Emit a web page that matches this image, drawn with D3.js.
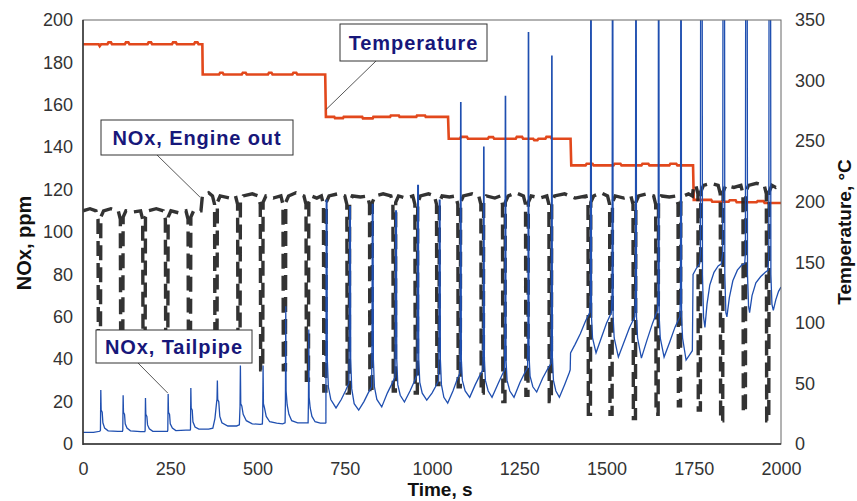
<!DOCTYPE html>
<html><head><meta charset="utf-8">
<script src="https://cdn.jsdelivr.net/npm/d3@7"></script>
<style>body{margin:0;background:#fff}svg{display:block}</style>
</head><body>
<svg id="chart" width="857" height="501"></svg>
<script>
// ---------- data ----------
const timeTicks = [0,250,500,750,1000,1250,1500,1750,2000];
const noxTicks = [0,20,40,60,80,100,120,140,160,180,200];
const tempTicks = [0,50,100,150,200,250,300,350];

// Temperature, °C  [time s, value]
const temperature = [[0,330],[45,330],[48,328.5],[52,330],[70,330],[73,331.5],[80,331.5],[83,330],[120,330],[123,331.5],[130,331.5],[133,330],[185,330],[188,331.5],[195,331.5],[198,330],[255,330],[258,331.5],[266,331.5],[269,330],[318,330],[321,331.5],[328,331.5],[331,330],[342,330],[343,305],[390,305],[393,306.5],[400,306.5],[403,305],[455,305],[458,306.5],[466,306.5],[469,305],[530,305],[533,306.5],[540,306.5],[543,305],[600,305],[603,306.5],[611,306.5],[614,305],[694,305],[696,270],[720,270],[722,269],[745,269],[747,270],[800,270],[802,268.8],[830,268.8],[832,270],[880,270],[882,271.2],[905,271.2],[907,270],[955,270],[957,271.2],[980,271.2],[982,270],[1046,270],[1048,252],[1080,252],[1083,253.5],[1100,253.5],[1103,252],[1160,252],[1163,253.3],[1175,253.3],[1178,252],[1240,252],[1243,253.5],[1258,253.5],[1261,252],[1290,252],[1293,250.8],[1302,250.8],[1305,252],[1325,252],[1328,253.5],[1340,253.5],[1343,252],[1397,252],[1399,230],[1440,230],[1443,231.3],[1460,231.3],[1463,230],[1520,230],[1523,231.3],[1540,231.3],[1543,230],[1600,230],[1603,231.3],[1620,231.3],[1623,230],[1680,230],[1683,231.3],[1700,231.3],[1703,230],[1748,230],[1750,201.5],[1800,201.5],[1803,200],[1850,200],[1853,201.2],[1870,201.2],[1873,199.5],[1930,199.5],[1933,200.5],[1950,200.5],[1953,199],[2000,199]];

// NOx engine out, ppm
const engineOut = [[0,110],[20,111],[37,110],[43,106],[44,45],[50,45],[51,107],[59,110],[80,111],[101,110],[107,106],[108,45],[114,45],[115,107],[123,110],[145,109.5],[165,110],[171,106],[172,45],[178,45],[179,107],[187,110],[210,111],[230,110],[236,106],[237,45],[243,45],[244,107],[252,110],[275,109],[295,110],[301,106],[302,45],[308,45],[309,107],[317,110],[338,110],[342,117],[360,118.5],[371,117],[377,113],[378,45],[384,45],[385,114],[393,117],[420,116],[437,117],[443,113],[444,45],[450,45],[451,114],[459,117],[485,118],[502,117],[508,113],[509,35],[515,35],[516,114],[524,117],[545,116],[567,117],[573,113],[574,35],[580,35],[581,114],[589,117],[610,118.5],[633,117],[639,113],[640,30],[646,30],[647,114],[655,117],[670,116],[683,117],[689,113],[690,25],[696,25],[697,114],[705,117],[730,118],[750,117],[756,113],[757,24],[763,24],[764,114],[772,117],[795,116.5],[815,117],[821,113],[822,24],[828,24],[829,114],[837,117],[860,118],[882,117],[888,113],[889,25],[895,25],[896,114],[904,117],[925,116],[945,117],[951,113],[952,24],[958,24],[959,114],[967,117],[990,118],[1007,117],[1013,113],[1014,28],[1020,28],[1021,114],[1029,117],[1050,116.5],[1068,117],[1074,113],[1075,27],[1081,27],[1082,114],[1090,117],[1115,118],[1134,117],[1140,113],[1141,24],[1147,24],[1148,114],[1156,117],[1180,116],[1196,117],[1202,113],[1203,20],[1209,20],[1210,114],[1218,117],[1240,118.5],[1262,117],[1268,113],[1269,23],[1275,23],[1276,114],[1284,117],[1310,116],[1329,117],[1335,113],[1336,20],[1342,20],[1343,114],[1351,117],[1380,118],[1410,116],[1441,117],[1447,113],[1448,14],[1454,14],[1455,114],[1463,117],[1485,118.5],[1503,117],[1509,113],[1510,14],[1516,14],[1517,114],[1525,117],[1550,116],[1570,117],[1576,113],[1577,12],[1583,12],[1584,114],[1592,117],[1615,118],[1635,117],[1641,113],[1642,14],[1648,14],[1649,114],[1657,117],[1680,116.5],[1699,117],[1705,113],[1706,18],[1712,18],[1713,114],[1721,117],[1735,118],[1746,117],[1750,122],[1756,122],[1762,118],[1763,16],[1769,16],[1770,119],[1778,122],[1800,123],[1820,122],[1826,118],[1827,11],[1833,11],[1834,119],[1842,122],[1865,121],[1885,122],[1891,118],[1892,15],[1898,15],[1899,119],[1907,122],[1930,123],[1952,122],[1958,118],[1959,11],[1965,11],[1966,119],[1974,122],[1985,121],[2000,122]];

// NOx tailpipe, ppm
const tailpipe = [[0,5.5],[30,5.5],[48,6],[50,6.5],[51,25.5],[52,16],[55,15],[57,10],[62,7.5],[72,6.2],[100,6],[113,6],[114,6.5],[115,23],[116,15],[119,14],[121,9.5],[126,7.5],[136,6.2],[165,5.8],[177,5.8],[178,6.3],[179,21.7],[180,14],[183,13],[185,9],[190,7.2],[200,6],[230,6],[242,6],[243,6.5],[244,23.6],[245,15],[248,14],[250,9.5],[256,7.5],[266,6.3],[295,6.5],[307,6.5],[308,7],[309,26.4],[310,17],[313,16],[315,10.5],[321,8],[332,7],[360,7],[372,7.5],[378,12],[383,20],[384,21],[385,30],[386,21],[389,20],[392,13],[398,10],[415,8.5],[440,8.5],[448,9],[450,18],[451,37],[452,19],[455,18],[459,14],[468,11],[485,9.5],[508,9.3],[514,9.5],[515,15],[516,37],[517,19],[520,17],[525,13],[535,10.5],[555,9.8],[572,9.5],[579,10],[580,20],[581,65],[582,25],[585,18.4],[590,14],[598,11],[615,10],[638,10],[645,10],[646,20],[647,54],[648,22],[651,17],[656,13],[665,10.5],[680,9.8],[695,9.8],
[696,10],[697,115],[699,115],[700,40],[703,27],[710,21],[725,17],[740,21],[752,25],[762,28.8],
[763,50],[764,112],[766,112],[767,40],[770,26],[777,19],[790,16],[805,20],[817,24],[827,27],
[828,45],[829,113],[831,113],[832,40],[835,27],[842,21],[856,17.5],[872,24],[884,28],[894,31.6],
[895,50],[896,110],[898,110],[899,40],[902,28],[909,23],[921,19.8],[937,25],[948,29],[957,32.5],
[958,55],[959,122],[961,122],[962,40],[965,29],[972,24],[985,20.7],[1000,24],[1010,27],[1019,30],
[1020,50],[1021,115],[1023,115],[1024,40],[1027,28],[1034,22],[1045,19.3],[1060,25],[1071,30],[1080,33.5],
[1081,55],[1082,161],[1083,161],[1084,40],[1087,30],[1095,25],[1108,22],[1124,28],[1136,32],[1146,35],
[1147,55],[1148,140],[1149,140],[1150,40],[1153,30],[1161,25],[1172,22],[1188,28],[1199,32],[1208,35],
[1209,55],[1210,164],[1211,164],[1212,40],[1215,30],[1223,25],[1235,22],[1252,29],[1264,33],[1274,36],
[1275,55],[1276,194],[1277,194],[1278,42],[1281,32],[1289,27],[1300,24.5],[1317,31],[1330,35],[1341,38],
[1342,55],[1343,183],[1344,183],[1345,40],[1348,30],[1355,25],[1365,22],[1380,28],[1393,33.5],[1396,35],[1397,43],[1410,47],[1425,52],[1440,58],[1452,62],
[1454,70],[1455,260],[1456,260],[1457,60],[1460,50],[1470,43],[1485,50],[1500,57],[1514,62],
[1516,70],[1517,260],[1518,260],[1519,60],[1522,50],[1534,41],[1550,48],[1566,55],[1581,60],
[1583,70],[1584,260],[1585,260],[1586,60],[1589,50],[1600,40.5],[1616,49],[1632,57],[1646,63],
[1648,70],[1649,260],[1650,260],[1651,60],[1654,50],[1665,41],[1681,48],[1696,55],[1710,60],
[1712,70],[1713,260],[1714,260],[1715,60],[1718,50],[1728,39.6],[1738,42],[1746,44],[1748,80],[1758,83],[1767,85],
[1769,90],[1770,260],[1774,260],[1775,80],[1778,60],[1782,55],[1788,66],[1796,75],[1808,81],[1820,84],[1829,85],
[1833,90],[1834,260],[1838,260],[1839,80],[1842,62],[1845,60],[1852,69],[1862,77],[1875,82],[1888,84.5],[1896,85],
[1898,90],[1899,260],[1903,260],[1904,80],[1907,65],[1910,62],[1917,70],[1928,76],[1942,79],[1955,81],[1963,82],
[1965,90],[1966,260],[1970,260],[1971,80],[1974,66],[1978,63],[1985,68],[1993,72],[2000,74]];

// annotation labels and the data points their leaders point at
const labelTexts = ["Temperature","NOx, Engine out","NOx, Tailpipe"];
const labelTips = [[696,276,"R"],[335,116.5,"L"],[243,24,"L"]];

// ---------- chart ----------
const svg = d3.select("#chart");
const W = 857, H = 501;
const m = {l:83, r:781, t:20, b:444};
const x = d3.scaleLinear().domain([0,2000]).range([m.l,m.r]);
const yL = d3.scaleLinear().domain([0,200]).range([m.b,m.t]);
const yR = d3.scaleLinear().domain([0,350]).range([m.b,m.t]);
const FONT = "'Liberation Sans', Arial, sans-serif";
const fmt = d3.format("d");

svg.append("rect").attr("width",W).attr("height",H).attr("fill","#fff");

svg.append("clipPath").attr("id","plotclip").append("rect")
  .attr("x",m.l).attr("y",m.t).attr("width",m.r-m.l).attr("height",m.b-m.t);

const plot = svg.append("g").attr("clip-path","url(#plotclip)");

const lineL = d3.line().x(d=>x(d[0])).y(d=>yL(d[1]));
const lineR = d3.line().x(d=>x(d[0])).y(d=>yR(d[1]));

plot.append("path").datum(temperature).attr("d",lineR)
  .attr("fill","none").attr("stroke","#e2481c").attr("stroke-width",2.6);

plot.append("path").datum(engineOut).attr("d",lineL)
  .attr("fill","none").attr("stroke","#222").attr("stroke-width",3.4)
  .attr("stroke-dasharray","15,7").attr("opacity",0.92);

plot.append("path").datum(tailpipe).attr("d",lineL)
  .attr("fill","none").attr("stroke","#1f4fb0").attr("stroke-width",1.3);

// frame
svg.append("rect").attr("x",m.l).attr("y",m.t).attr("width",m.r-m.l).attr("height",m.b-m.t)
  .attr("fill","none").attr("stroke","#666").attr("stroke-width",1);
svg.append("line").attr("x1",m.l).attr("x2",m.l).attr("y1",m.t).attr("y2",m.b+1)
  .attr("stroke","#333").attr("stroke-width",1.5);
svg.append("line").attr("x1",m.l).attr("x2",m.r).attr("y1",m.b).attr("y2",m.b)
  .attr("stroke","#333").attr("stroke-width",1.5);

// axes
function styleAxis(g){
  g.select(".domain").remove();
  g.selectAll("text").attr("font-family",FONT).attr("font-size",18).attr("fill","#333");
}
svg.append("g").attr("transform",`translate(${m.l},0)`)
  .call(d3.axisLeft(yL).tickValues(noxTicks).tickFormat(fmt).tickSize(0).tickPadding(10)).call(styleAxis);
svg.append("g").attr("transform",`translate(${m.r},0)`)
  .call(d3.axisRight(yR).tickValues(tempTicks).tickFormat(fmt).tickSize(0).tickPadding(14)).call(styleAxis);
svg.append("g").attr("transform",`translate(0,${m.b})`)
  .call(d3.axisBottom(x).tickValues(timeTicks).tickFormat(fmt).tickSize(0).tickPadding(18)).call(styleAxis);

// axis titles
svg.append("text").attr("x",440).attr("y",496).attr("text-anchor","middle")
  .attr("font-family",FONT).attr("font-weight","bold").attr("font-size",19).attr("fill","#111")
  .text("Time, s");
svg.append("text").attr("transform","translate(31,243) rotate(-90)").attr("text-anchor","middle")
  .attr("font-family",FONT).attr("font-weight","bold").attr("font-size",20).attr("fill","#111")
  .text("NOx, ppm");
svg.append("text").attr("transform","translate(851,232) rotate(-90)").attr("text-anchor","middle")
  .attr("font-family",FONT).attr("font-weight","bold").attr("font-size",19).attr("fill","#111")
  .text("Temperature, °C");

// annotations
const boxes = [
  {x0:340, y0:24, x1:487, y1:61, from:[376,61]},
  {x0:101, y0:120, x1:293, y1:155, from:[157,155]},
  {x0:96, y0:330, x1:252, y1:363, from:[138,363]}
];
boxes.forEach((b,i)=>{
  const t = labelTips[i];
  const tip = [x(t[0]), t[2]==="R" ? yR(t[1]) : yL(t[1])];
  svg.append("line").attr("x1",b.from[0]).attr("y1",b.from[1]).attr("x2",tip[0]).attr("y2",tip[1])
    .attr("stroke","#444").attr("stroke-width",0.9);
  svg.append("rect").attr("x",b.x0).attr("y",b.y0).attr("width",b.x1-b.x0).attr("height",b.y1-b.y0)
    .attr("fill","#fff").attr("stroke","#333").attr("stroke-width",1);
  svg.append("text").attr("x",(b.x0+b.x1)/2).attr("y",(b.y0+b.y1)/2+7).attr("text-anchor","middle")
    .attr("font-family",FONT).attr("font-weight","bold").attr("font-size",20).attr("letter-spacing",0.9)
    .attr("fill","#17177a").text(labelTexts[i]);
});
</script>
</body></html>
